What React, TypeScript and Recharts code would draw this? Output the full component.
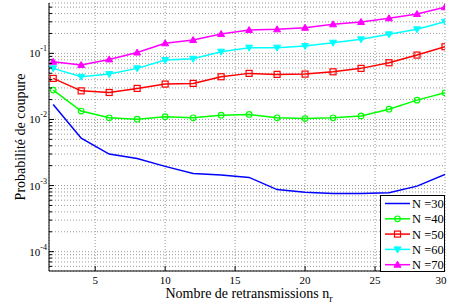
import { LineChart, Line, XAxis, YAxis, CartesianGrid, Legend } from "recharts"

// nombre de retransmissions
const nr = [2, 4, 6, 8, 10, 12, 14, 16, 18, 20, 22, 24, 26, 28, 30]

// probabilité de coupure pour chaque N
const n30 = [0.0169, 0.0052, 0.003, 0.00256, 0.00195, 0.00152, 0.00145, 0.00133, 0.00087, 0.00079, 0.00076, 0.00076, 0.00078, 0.00098, 0.00147]
const n40 = [0.0278, 0.0134, 0.0106, 0.0101, 0.011, 0.0106, 0.0116, 0.0119, 0.0106, 0.0103, 0.0106, 0.0113, 0.0143, 0.0196, 0.0253]
const n50 = [0.0418, 0.0271, 0.0256, 0.0295, 0.0343, 0.0351, 0.0443, 0.0498, 0.0481, 0.0486, 0.0526, 0.0593, 0.0721, 0.0942, 0.126]
const n60 = [0.0593, 0.0443, 0.0486, 0.0593, 0.0792, 0.0828, 0.106, 0.122, 0.122, 0.129, 0.145, 0.163, 0.194, 0.231, 0.301]
const n70 = [0.0746, 0.0665, 0.081, 0.103, 0.142, 0.159, 0.196, 0.225, 0.231, 0.244, 0.275, 0.298, 0.339, 0.394, 0.497]

const xTicks = [5, 10, 15, 20, 25, 30]
const decades = [1e-5, 1e-4, 1e-3, 1e-2, 1e-1]
const mantissas = [1, 2, 3, 4, 5, 6, 7, 8, 9]

const Y_MIN = 5.1e-5
const Y_MAX = 0.578
const yTicks = decades
  .flatMap((d) => mantissas.map((m) => m * d))
  .filter((v) => v >= Y_MIN && v <= Y_MAX)

const series = [
  { key: "n30", name: "N =30", color: "#0000ff", marker: "none", values: n30 },
  { key: "n40", name: "N =40", color: "#00ff00", marker: "circle", values: n40 },
  { key: "n50", name: "N =50", color: "#ff0000", marker: "square", values: n50 },
  { key: "n60", name: "N =60", color: "#00ffff", marker: "down", values: n60 },
  { key: "n70", name: "N =70", color: "#ff00ff", marker: "up", values: n70 },
]

const data = nr.map((x, i) => {
  const row: Record<string, number> = { x }
  series.forEach((s) => (row[s.key] = s.values[i]))
  return row
})

const FONT = "'Liberation Serif', 'Times New Roman', serif"

function Marker({ kind, color, cx, cy }: { kind: string; color: string; cx: number; cy: number }) {
  if (kind === "circle") return <circle cx={cx} cy={cy} r={2.8} fill="none" stroke={color} strokeWidth={1.2} />
  if (kind === "square")
    return <rect x={cx - 3} y={cy - 3} width={6} height={6} fill="none" stroke={color} strokeWidth={1.2} />
  if (kind === "down")
    return <polygon points={`${cx - 3.5},${cy - 2.5} ${cx + 3.5},${cy - 2.5} ${cx},${cy + 3.5}`} fill={color} stroke={color} />
  if (kind === "up")
    return <polygon points={`${cx - 3.5},${cy + 2.5} ${cx + 3.5},${cy + 2.5} ${cx},${cy - 3.5}`} fill={color} stroke={color} />
  return null
}

const isMajor = (v: number) => Math.abs(Math.log10(v) - Math.round(Math.log10(v))) < 1e-6

function YTick(props: any) {
  const { x, y, payload } = props
  const v = payload.value
  const major = isMajor(v)
  return (
    <g>
      <line x1={x} x2={x + (major ? 5 : 3)} y1={y} y2={y} stroke="#000" />
      {major && (
        <text x={x - 2} y={y + 4} textAnchor="end" fontSize={11} fontFamily={FONT} fill="#000">
          10
          <tspan dy={-6} fontSize={8}>
            {"-" + Math.abs(Math.round(Math.log10(v)))}
          </tspan>
        </text>
      )}
    </g>
  )
}

function YTickRight(props: any) {
  const { x, y, payload } = props
  const major = isMajor(payload.value)
  return <line x1={x} x2={x - (major ? 5 : 3)} y1={y} y2={y} stroke="#000" />
}

function XTick(props: any) {
  const { x, y, payload } = props
  return (
    <g>
      <line x1={x} x2={x} y1={y} y2={y - 5} stroke="#000" />
      <text x={x} y={y + 13} textAnchor="middle" fontSize={11} fontFamily={FONT} fill="#000">
        {payload.value}
      </text>
    </g>
  )
}

function XTickTop(props: any) {
  const { x, y } = props
  return <line x1={x} x2={x} y1={y} y2={y + 5} stroke="#000" />
}

function LegendBox() {
  return (
    <svg width={65} height={77} style={{ display: "block" }}>
      <rect x={0.5} y={0.5} width={64} height={76} fill="#fff" stroke="#000" />
      {series.map((s, i) => {
        const cy = 8.5 + i * 15.3
        return (
          <g key={s.key}>
            <line x1={5} x2={30} y1={cy} y2={cy} stroke={s.color} strokeWidth={1.5} />
            <Marker kind={s.marker} color={s.color} cx={17.5} cy={cy} />
            <text x={32} y={cy + 4.5} fontSize={12.5} fontFamily={FONT} fill="#000">
              {s.name}
            </text>
          </g>
        )
      })}
    </svg>
  )
}

export default function App() {
  return (
    <div style={{ position: "absolute", left: 0, top: 0, width: 449, height: 308, background: "#fff" }}>
      <LineChart width={449} height={308} data={data} margin={{ top: 3, right: 4, left: 0, bottom: 0 }}>
        <CartesianGrid stroke="#9a9a9a" strokeDasharray="1 2" />
        <XAxis
          dataKey="x"
          type="number"
          domain={[1.7, 30]}
          ticks={xTicks}
          allowDataOverflow
          height={37}
          tickSize={0}
          tickMargin={0}
          tick={<XTick />}
          stroke="#000"
          label={{
            content: () => (
              <text x={249} y={298} textAnchor="middle" fontSize={14} fontFamily={FONT} fill="#000">
                Nombre de retransmissions n
                <tspan dy={4} fontSize={10}>
                  r
                </tspan>
              </text>
            ),
          }}
        />
        <XAxis
          xAxisId="top"
          orientation="top"
          dataKey="x"
          type="number"
          domain={[1.7, 30]}
          ticks={xTicks}
          allowDataOverflow
          height={0}
          tickSize={0}
          tickMargin={0}
          tick={<XTickTop />}
          stroke="#000"
        />
        <YAxis
          scale="log"
          type="number"
          domain={[Y_MIN, Y_MAX]}
          ticks={yTicks}
          allowDataOverflow
          width={49}
          tickSize={0}
          tickMargin={0}
          tick={<YTick />}
          interval={0}
          stroke="#000"
          label={{
            content: () => (
              <text
                x={25}
                y={137}
                transform="rotate(-90 25 137)"
                textAnchor="middle"
                fontSize={14}
                fontFamily={FONT}
                fill="#000"
              >
                Probabilité de coupure
              </text>
            ),
          }}
        />
        <YAxis
          yAxisId="right"
          orientation="right"
          scale="log"
          type="number"
          domain={[Y_MIN, Y_MAX]}
          ticks={yTicks}
          allowDataOverflow
          width={0}
          tickSize={0}
          tickMargin={0}
          tick={<YTickRight />}
          interval={0}
          stroke="#000"
        />
        {series.map((s) => (
          <Line
            key={s.key}
            dataKey={s.key}
            name={s.name}
            type="linear"
            stroke={s.color}
            strokeWidth={1.5}
            isAnimationActive={false}
            dot={
              s.marker === "none"
                ? false
                : (p: any) => <Marker key={`${s.key}-${p.index}`} kind={s.marker} color={s.color} cx={p.cx} cy={p.cy} />
            }
            activeDot={false}
          />
        ))}
        <Legend
          layout="vertical"
          align="center"
          verticalAlign="middle"
          wrapperStyle={{ position: "absolute", left: 380, top: 195, width: 65, height: 77 }}
          content={() => <LegendBox />}
        />
      </LineChart>
    </div>
  )
}
